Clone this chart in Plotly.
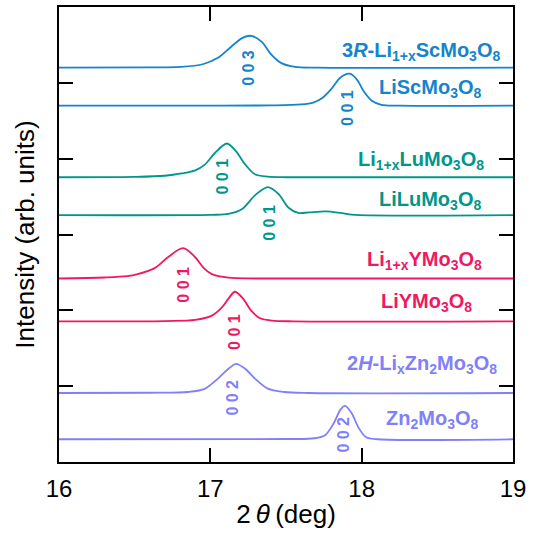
import plotly.graph_objects as go

# ---- data ----
names = ["3R-Li1+xScMo3O8", "LiScMo3O8", "Li1+xLuMo3O8", "LiLuMo3O8",
         "Li1+xYMo3O8", "LiYMo3O8", "2H-LixZn2Mo3O8", "Zn2Mo3O8"]
label_html = [
    "<b>3<i>R</i>-Li<sub>1+x</sub>ScMo<sub>3</sub>O<sub>8</sub></b>",
    "<b>LiScMo<sub>3</sub>O<sub>8</sub></b>",
    "<b>Li<sub>1+x</sub>LuMo<sub>3</sub>O<sub>8</sub></b>",
    "<b>LiLuMo<sub>3</sub>O<sub>8</sub></b>",
    "<b>Li<sub>1+x</sub>YMo<sub>3</sub>O<sub>8</sub></b>",
    "<b>LiYMo<sub>3</sub>O<sub>8</sub></b>",
    "<b>2<i>H</i>-Li<sub>x</sub>Zn<sub>2</sub>Mo<sub>3</sub>O<sub>8</sub></b>",
    "<b>Zn<sub>2</sub>Mo<sub>3</sub>O<sub>8</sub></b>",
]
hkl = ["0 0 3", "0 0 1", "0 0 1", "0 0 1", "0 0 1", "0 0 1", "0 0 2", "0 0 2"]
offsets = [5.20, 4.70, 3.755, 3.256, 2.42, 1.855, 0.91, 0.30]

sc3r_x = [16.0, 16.6, 16.8, 16.95, 17.05, 17.14, 17.21, 17.27, 17.34, 17.40, 17.47, 17.56, 17.7, 19.0]
sc3r_i = [0, 0.003, 0.01, 0.045, 0.13, 0.28, 0.39, 0.42, 0.34, 0.18, 0.06, 0.01, 0, 0]

lisc_x = [16.0, 17.4, 17.6, 17.68, 17.74, 17.80, 17.86, 17.92, 17.97, 18.01, 18.07, 18.13, 18.25, 19.0]
lisc_i = [0, 0.003, 0.015, 0.04, 0.10, 0.22, 0.37, 0.42, 0.34, 0.20, 0.06, 0.01, 0, 0]

lu1x_x = [16.0, 16.5, 16.7, 16.81, 16.90, 16.965, 17.03, 17.11, 17.17, 17.23, 17.295, 17.38, 17.5, 19.0]
lu1x_i = [0, 0.005, 0.02, 0.05, 0.09, 0.17, 0.32, 0.445, 0.34, 0.17, 0.04, 0.008, 0, 0]

lilu_x = [16.0, 17.0, 17.12, 17.21, 17.30, 17.38, 17.45, 17.515, 17.58, 17.65, 17.76, 17.87, 17.96, 19.0]
lilu_i = [0, 0.003, 0.015, 0.08, 0.27, 0.37, 0.28, 0.10, 0.03, 0.035, 0.048, 0.025, 0.003, 0]

y1x_x = [16.0, 16.3, 16.45, 16.52, 16.635, 16.72, 16.82, 16.90, 16.955, 17.01, 17.12, 17.3, 19.0]
y1x_i = [0, 0.013, 0.03, 0.057, 0.14, 0.28, 0.40, 0.28, 0.14, 0.057, 0.01, 0, 0]

liy_x = [16.0, 16.7, 16.9, 17.01, 17.075, 17.12, 17.163, 17.22, 17.27, 17.33, 17.405, 17.55, 19.0]
liy_i = [0, 0.004, 0.018, 0.075, 0.18, 0.30, 0.39, 0.29, 0.14, 0.04, 0.01, 0, 0]

zn2h_x = [16.0, 16.6, 16.855, 16.965, 17.05, 17.12, 17.17, 17.23, 17.295, 17.38, 17.49, 17.65, 19.0]
zn2h_i = [0, 0.003, 0.013, 0.057, 0.19, 0.32, 0.385, 0.32, 0.19, 0.057, 0.013, 0, 0]

zn_x = [16.0, 17.5, 17.69, 17.76, 17.815, 17.86, 17.89, 17.935, 17.98, 18.03, 18.11, 19.0]
zn_i = [0, 0.003, 0.013, 0.057, 0.21, 0.39, 0.44, 0.34, 0.15, 0.026, 0.0, 0]

xs = [sc3r_x, lisc_x, lu1x_x, lilu_x, y1x_x, liy_x, zn2h_x, zn_x]
ints = [sc3r_i, lisc_i, lu1x_i, lilu_i, y1x_i, liy_i, zn2h_i, zn_i]

# ---- styles / positions ----
BLUE = "rgb(20,132,204)"
TEAL = "rgb(0,150,140)"
PINK = "rgb(240,24,98)"
LAV = "rgb(128,128,250)"
colors = [BLUE, BLUE, TEAL, TEAL, PINK, PINK, LAV, LAV]

label_pos = [(18.93, 5.41), (18.80, 4.92), (18.82, 3.97), (18.80, 3.45),
             (18.81, 2.66), (18.74, 2.10), (18.91, 1.28), (18.78, 0.56)]
hkl_pos = [(17.25, 5.20), (17.91, 4.67), (17.08, 3.77), (17.39, 3.16),
           (16.82, 2.34), (17.16, 1.71), (17.15, 0.85), (17.88, 0.355)]

FONT = "Liberation Sans, Arial, Helvetica"

fig = go.Figure()
for n, x, inten, off, c in zip(names, xs, ints, offsets, colors):
    fig.add_trace(go.Scatter(
        x=x, y=[v + off for v in inten], mode="lines", name=n,
        line=dict(color=c, width=1.8, shape="spline", smoothing=0.9),
        showlegend=False))

ann = []
for txt, (lx, ly), c in zip(label_html, label_pos, colors):
    ann.append(dict(x=lx, y=ly, xref="x", yref="y", text=txt, showarrow=False,
                    xanchor="right", yanchor="middle",
                    font=dict(family=FONT, size=20, color=c)))
for t, (hx, hy), c in zip(hkl, hkl_pos, colors):
    ann.append(dict(x=hx, y=hy, xref="x", yref="y", text="<b>%s</b>" % t,
                    showarrow=False, textangle=-90,
                    xanchor="center", yanchor="middle",
                    font=dict(family=FONT, size=16, color=c)))

fig.update_layout(
    width=543, height=538,
    margin=dict(l=59, r=30, t=5, b=76),
    plot_bgcolor="white", paper_bgcolor="white",
    annotations=ann,
    font=dict(family=FONT, color="black"),
)
fig.update_xaxes(
    range=[16, 19], tickvals=[16, 17, 18, 19], ticks="inside", ticklen=14,
    tickwidth=2, tickcolor="black", showline=True, linewidth=2, linecolor="black",
    mirror="ticks", showgrid=False, zeroline=False, ticklabelstandoff=4,
    tickfont=dict(size=24, color="black"),
    title=dict(text="2\u2009<i>θ</i>\u2009(deg)", font=dict(size=26, color="black"), standoff=4),
)
fig.update_yaxes(
    range=[0, 6], dtick=1, ticks="inside", ticklen=14, tickwidth=2,
    tickcolor="black", showline=True, linewidth=2, linecolor="black",
    mirror="ticks", showgrid=False, zeroline=False, showticklabels=False,
    title=dict(text="Intensity (arb. units)", font=dict(size=26, color="black"), standoff=15),
)

fig.write_html("out.html")
